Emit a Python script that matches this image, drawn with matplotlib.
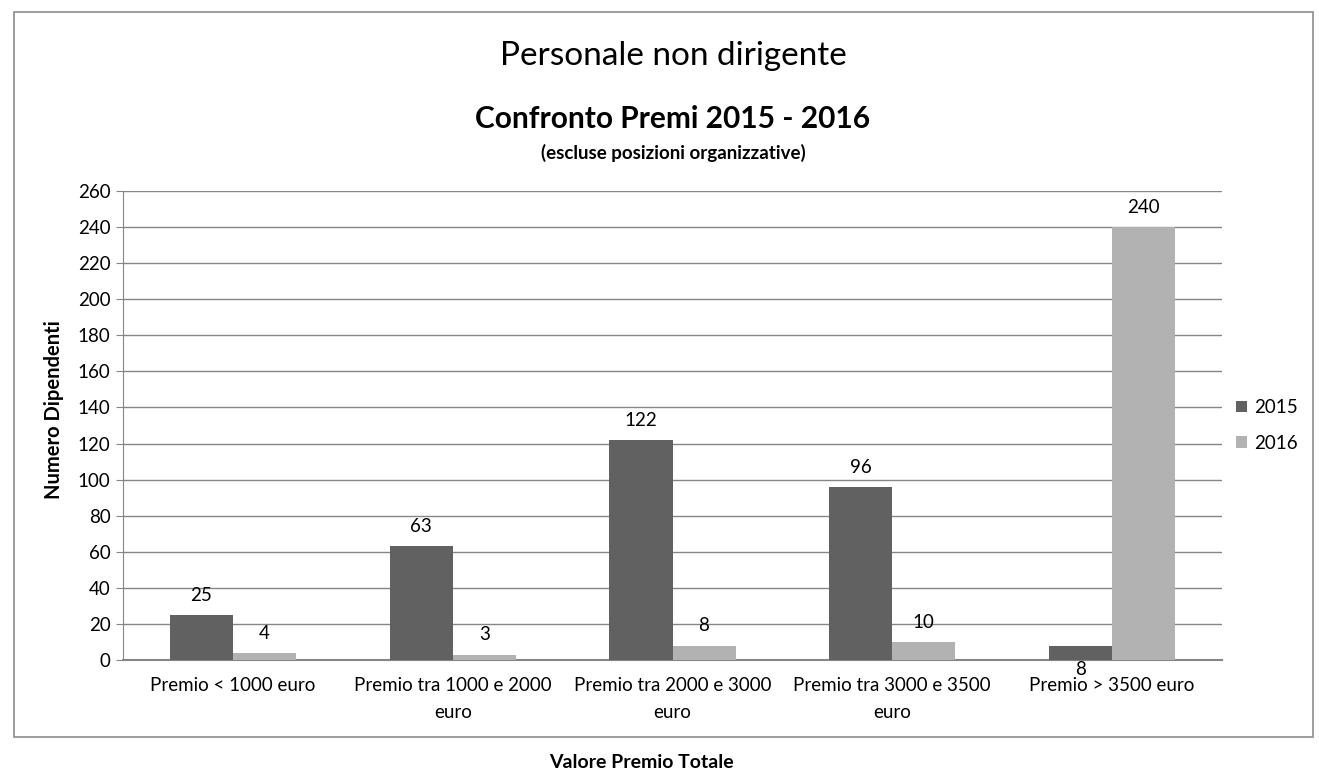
import matplotlib as mpl
import matplotlib.pyplot as plt
import numpy as np
from matplotlib.patches import Rectangle

mpl.rcParams['font.family'] = ['Lato', 'DejaVu Sans']

categorie = ["Premio < 1000 euro", "Premio tra 1000 e 2000\neuro",
             "Premio tra 2000 e 3000\neuro", "Premio tra 3000 e 3500\neuro",
             "Premio > 3500 euro"]
valori_2015 = [25, 63, 122, 96, 8]
valori_2016 = [4, 3, 8, 10, 240]
anni = ["2015", "2016"]
colori = ["#616161", "#b2b2b2"]

fs = 13.5  # dimensione testo normale

fig = plt.figure(figsize=(13.19, 7.71), dpi=100)

# cornice del grafico
fig.patches.append(Rectangle((14 / 1319, 1 - 737 / 771), 1299 / 1319, 725 / 771,
                             transform=fig.transFigure, fill=False,
                             edgecolor="#8c8c8c", linewidth=1.2))

ax = fig.add_axes([123 / 1319, 1 - 660 / 771, 1099 / 1319, 469 / 771])

x = np.arange(len(categorie))
w = 0.287
b1 = ax.bar(x - w / 2, valori_2015, w, color=colori[0], label=anni[0], zorder=3)
b2 = ax.bar(x + w / 2, valori_2016, w, color=colori[1], label=anni[1], zorder=3)

for rect, v in zip(b1, valori_2015):
    if v < 10:
        # etichetta sotto l'asse come nell'originale
        ax.annotate(str(v), (rect.get_x() + rect.get_width() / 2, 0),
                    xytext=(0, -1), textcoords="offset points",
                    ha="center", va="top", fontsize=fs)
    else:
        ax.annotate(str(v), (rect.get_x() + rect.get_width() / 2, v),
                    xytext=(0, 8), textcoords="offset points",
                    ha="center", va="bottom", fontsize=fs)
for rect, v in zip(b2, valori_2016):
    ax.annotate(str(v), (rect.get_x() + rect.get_width() / 2, v),
                xytext=(0, 8), textcoords="offset points",
                ha="center", va="bottom", fontsize=fs)

ax.set_xlim(-0.5, len(categorie) - 0.5)
ax.set_ylim(0, 260)
ax.set_yticks(np.arange(0, 261, 20))
ax.set_xticks(x)
ax.set_xticklabels(categorie, fontsize=fs, linespacing=1.75)
ax.tick_params(axis="x", length=0, pad=12)
ax.tick_params(axis="y", length=5, color="#868686", labelsize=fs, pad=4)
ax.grid(True, axis="y", color="#868686", linewidth=1, zorder=0)
for s in ["top", "right"]:
    ax.spines[s].set_visible(False)
ax.spines["left"].set_color("#868686")
ax.spines["bottom"].set_color("#868686")
ax.spines["bottom"].set_linewidth(1.5)

fig.text(54 / 1319, 1 - 410 / 771, "Numero Dipendenti", rotation=90, ha="center", va="center",
         fontsize=14.5, fontweight="bold")

fig.text(673 / 1319, 1 - 56 / 771, "Personale non dirigente", ha="center", va="center", fontsize=24)
fig.text(673 / 1319, 1 - 119 / 771, "Confronto Premi 2015 - 2016", ha="center", va="center",
         fontsize=21.5, fontweight="bold")
fig.text(673 / 1319, 1 - 153 / 771, "(escluse posizioni organizzative)", ha="center", va="center",
         fontsize=13.5, fontweight="bold")
fig.text(641 / 1319, 1 - 762 / 771, "Valore Premio Totale", ha="center", va="center",
         fontsize=14, fontweight="bold")

ax.legend(loc="center left", bbox_to_anchor=(0.997, 0.5), frameon=False,
          fontsize=fs, handlelength=0.6, handleheight=0.6, labelspacing=1.0,
          handletextpad=0.4)

plt.savefig("out.png")
